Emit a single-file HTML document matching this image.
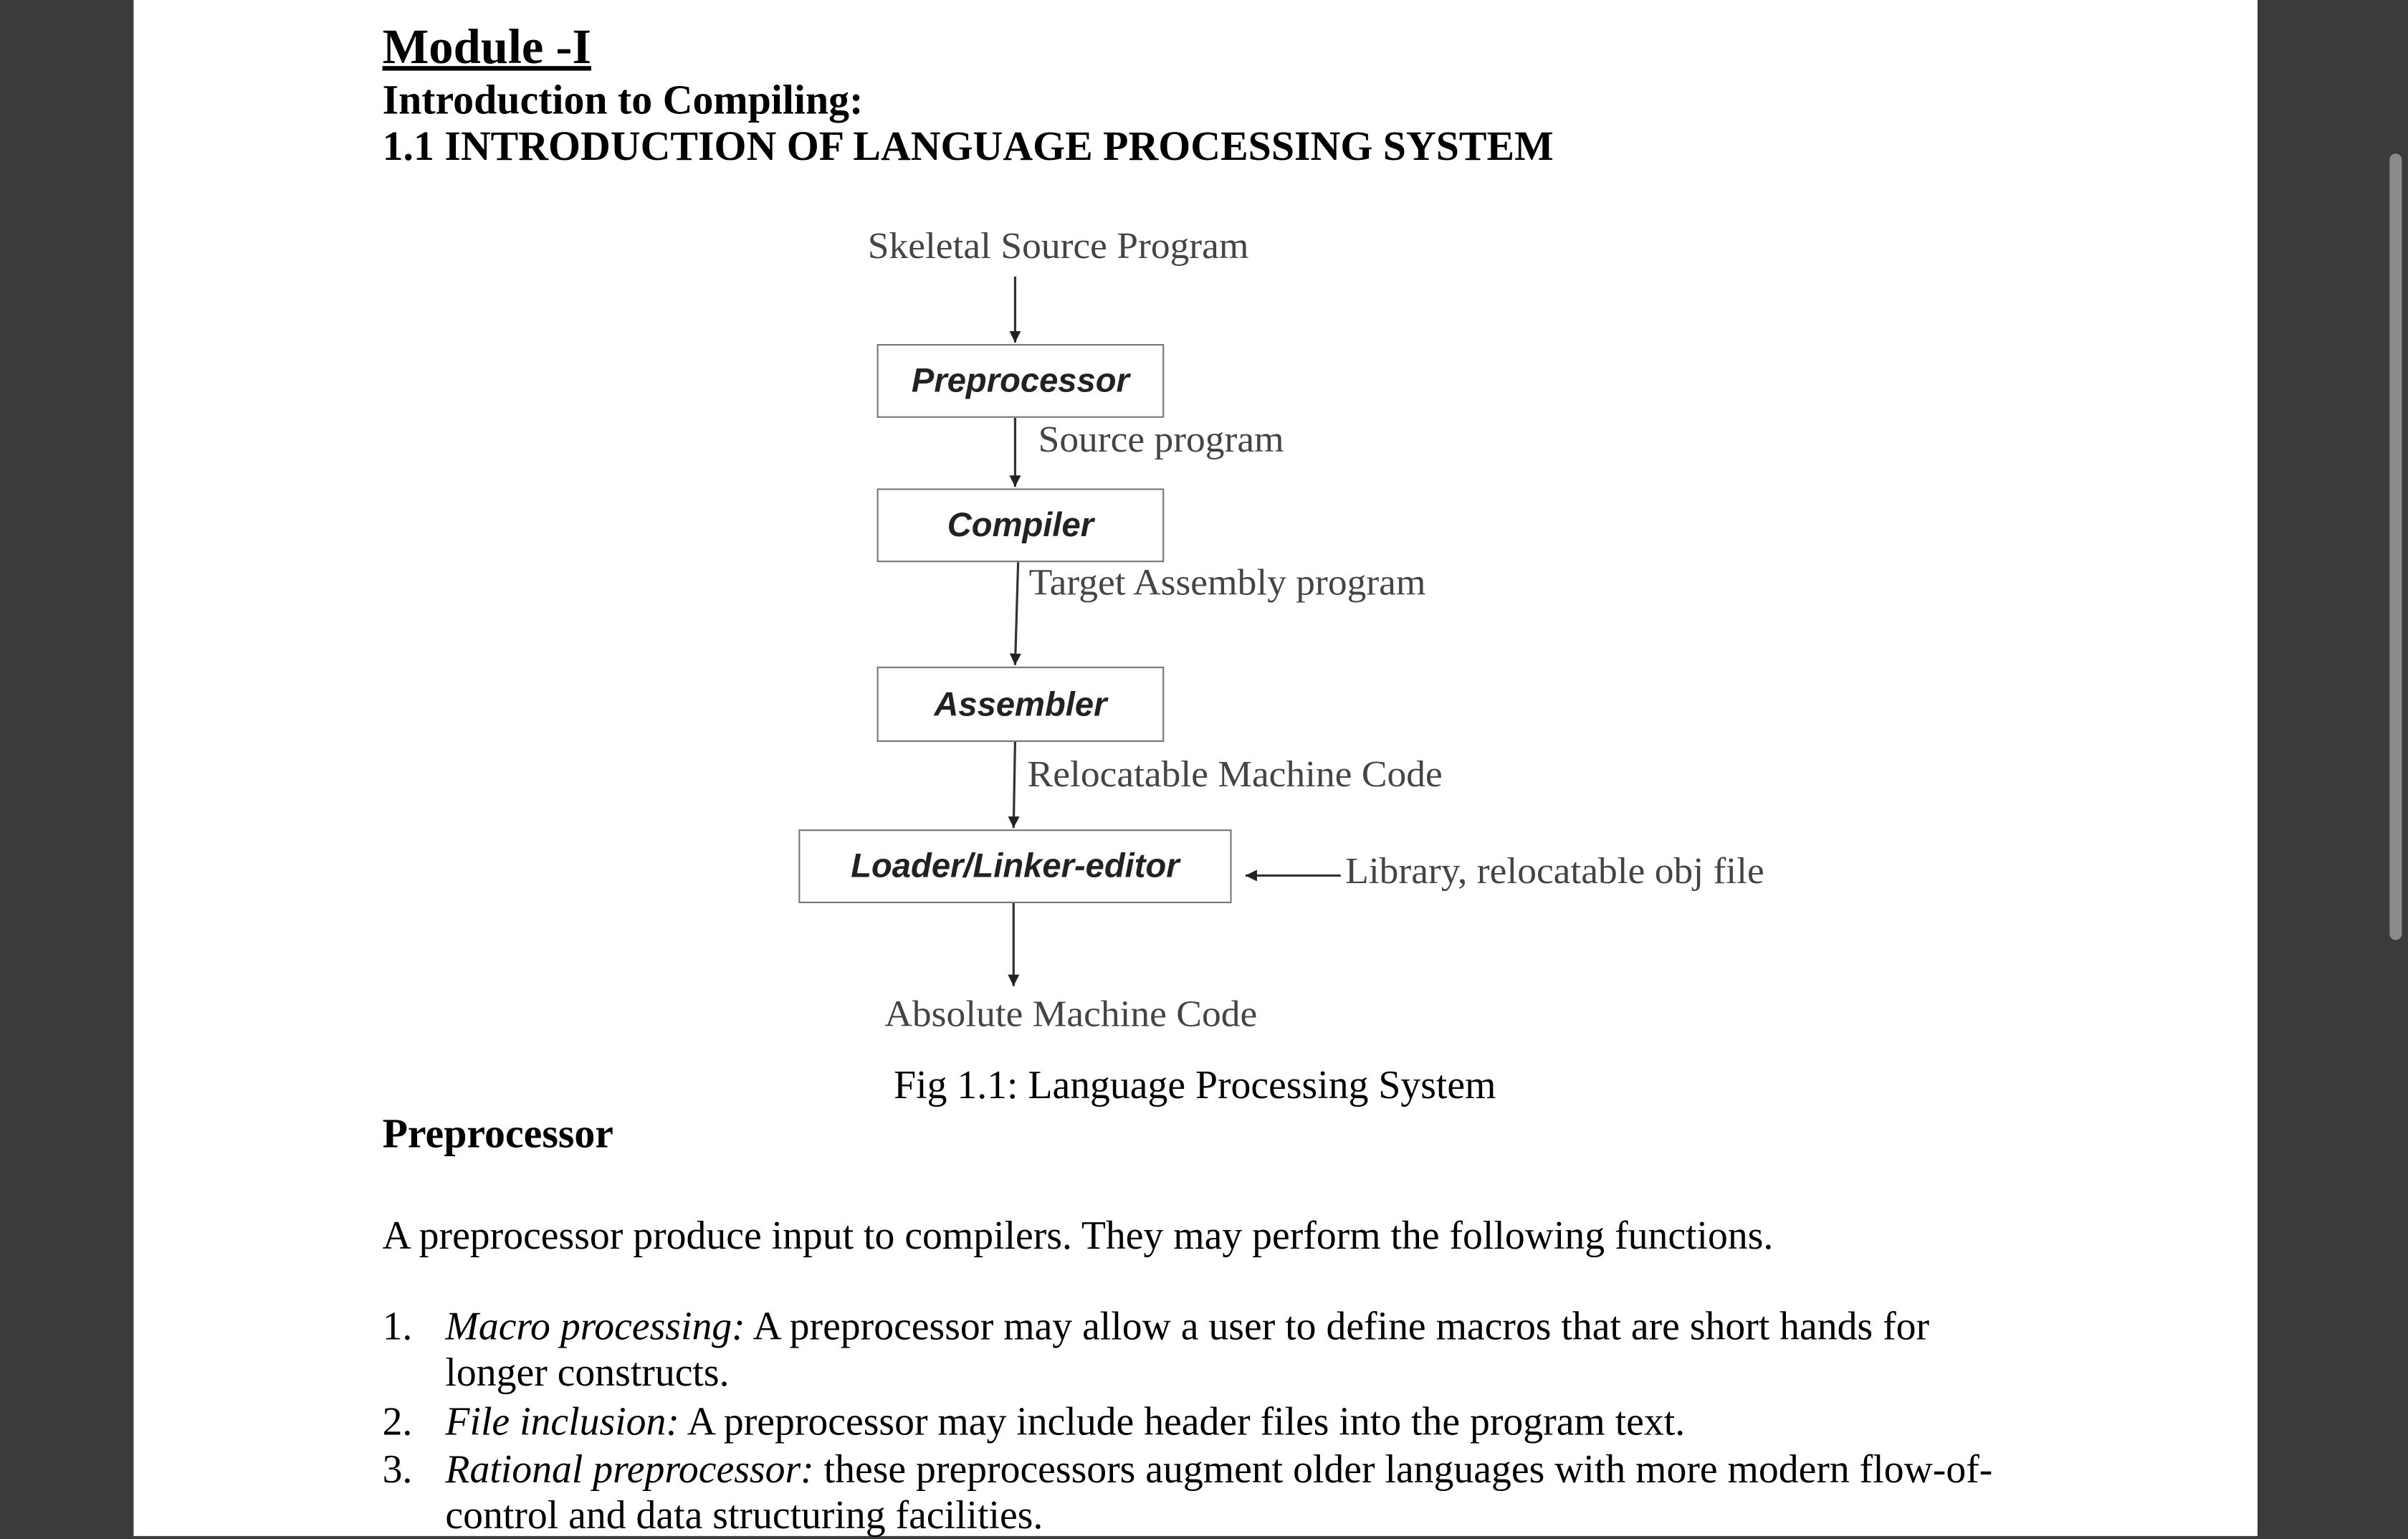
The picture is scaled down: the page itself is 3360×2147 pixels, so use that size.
<!DOCTYPE html>
<html><head><meta charset="utf-8"><style>
html,body{margin:0;padding:0;width:3360px;height:2100px;overflow:hidden;background:#3b3b3b}
#s{position:absolute;left:0;top:0;width:1568px;height:980px;transform:scale(2.142857);transform-origin:0 0}
.a{position:absolute;white-space:nowrap}
.serif{font-family:"Liberation Serif",serif;color:#000}
.g{font-family:"Liberation Serif",serif;color:#444;font-size:24px;transform:scaleX(1.04);transform-origin:0 50%}
.box{position:absolute;border:1.5px solid #777;background:#fff;font-family:"Liberation Sans",sans-serif;font-weight:bold;font-style:italic;font-size:22px;color:#222;display:flex;align-items:center;justify-content:center;box-sizing:border-box}
.n{display:inline-block;width:41px}
</style></head><body>
<div id="s">
<div class="a" style="left:87px;top:0;width:1383px;height:1000px;background:#fff"></div>
<div class="a" style="left:1556px;top:100px;width:8px;height:512px;border-radius:4px;background:#8a8a8a"></div>
<div class="a serif" style="left:249px;top:12px;font-size:32px;font-weight:bold;text-decoration:underline">Module -I</div>
<div class="a serif" style="left:249px;top:50px;font-size:27px;font-weight:bold">Introduction to Compiling:</div>
<div class="a serif" style="left:249px;top:80px;font-size:27px;font-weight:bold">1.1 INTRODUCTION OF LANGUAGE PROCESSING SYSTEM</div>

<svg class="a" style="left:0;top:0" width="1568" height="980">
<defs><marker id="m" viewBox="0 0 10 10" refX="10" refY="5" markerWidth="5" markerHeight="5" orient="auto"><path d="M0,0L10,5L0,10z" fill="#222"/></marker></defs>
<g stroke="#333" stroke-width="1.5" marker-end="url(#m)">
<line x1="661" y1="180" x2="661" y2="223"/>
<line x1="661" y1="271" x2="661" y2="317"/>
<line x1="663" y1="365" x2="661" y2="433"/>
<line x1="661" y1="482" x2="660" y2="539"/>
<line x1="660" y1="587" x2="660" y2="642"/>
<line x1="873" y1="570" x2="811" y2="570"/>
</g></svg>

<div class="a g" style="left:565px;top:148px">Skeletal Source Program</div>
<div class="box" style="left:571px;top:224px;width:187px;height:48px">Preprocessor</div>
<div class="a g" style="left:676px;top:274px">Source program</div>
<div class="box" style="left:571px;top:318px;width:187px;height:48px">Compiler</div>
<div class="a g" style="left:670px;top:367px">Target Assembly program</div>
<div class="box" style="left:571px;top:434px;width:187px;height:49px">Assembler</div>
<div class="a g" style="left:669px;top:492px">Relocatable Machine Code</div>
<div class="box" style="left:520px;top:540px;width:282px;height:48px">Loader/Linker-editor</div>
<div class="a g" style="left:876px;top:555px">Library, relocatable obj file</div>
<div class="a g" style="left:576px;top:648px">Absolute Machine Code</div>
<div class="a serif" style="left:582px;top:692px;font-size:26px">Fig 1.1: Language Processing System</div>

<div class="a serif" style="left:249px;top:723px;font-size:27px;font-weight:bold">Preprocessor</div>
<div class="a serif" style="left:249px;top:790px;font-size:26px">A preprocessor produce input to compilers. They may perform the following functions.</div>
<div class="a serif" style="left:249px;top:849px;font-size:26px;line-height:30px"><span class="n">1.</span><i>Macro processing:</i> A preprocessor may allow a user to define macros that are short hands for<br><span class="n"></span>longer constructs.</div>
<div class="a serif" style="left:249px;top:911px;font-size:26px"><span class="n">2.</span><i>File inclusion:</i> A preprocessor may include header files into the program text.</div>
<div class="a serif" style="left:249px;top:942px;font-size:26px;line-height:30px"><span class="n">3.</span><i>Rational preprocessor:</i> these preprocessors augment older languages with more modern flow-of-<br><span class="n"></span>control and data structuring facilities.</div>
</div>
</body></html>
